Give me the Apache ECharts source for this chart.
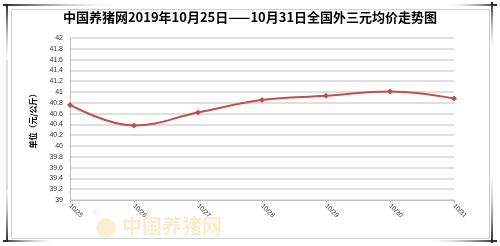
<!DOCTYPE html>
<html>
<head>
<meta charset="utf-8">
<script src="https://cdn.jsdelivr.net/npm/echarts@6/dist/echarts.min.js"></script>
<style>html,body{margin:0;padding:0;background:#fff}#c{width:500px;height:246px}</style>
</head>
<body>
<div id="c"></div>
<script>
var titleText = '中国养猪网2019年10月25日——10月31日全国外三元均价走势图';
var yAxisName = '单位（元/公斤）';
var categories = ['10/25', '10/26', '10/27', '10/28', '10/29', '10/30', '10/31'];
var prices = [40.76, 40.38, 40.62, 40.85, 40.93, 41.01, 40.88];
var yMin = 39, yMax = 42, yStep = 0.2;

var chart = echarts.init(document.getElementById('c'), null, {renderer: 'canvas'});
var cjk = '"Noto Sans CJK SC", "Noto Sans", sans-serif';
function grad(x1, y1, x2, y2, c1, c2) {
  return new echarts.graphic.LinearGradient(x1, y1, x2, y2, [{offset: 0, color: c1}, {offset: 1, color: c2}]);
}
chart.setOption({
  animation: false,
  backgroundColor: '#fff',
  title: {
    text: titleText, left: 'center', top: 6,
    textStyle: {fontFamily: cjk, fontSize: 13, fontWeight: 'bold', color: '#000'}
  },
  grid: {left: 70, right: 46, top: 38, bottom: 46},
  xAxis: {
    type: 'category', data: categories, boundaryGap: false,
    axisLine: {lineStyle: {color: '#bfbfbf', width: 1}},
    axisTick: {show: true, inside: false, length: 3, lineStyle: {color: '#bfbfbf'}},
    axisLabel: {rotate: -45, fontSize: 6.5, color: '#333', fontFamily: 'Liberation Sans', margin: 5},
    splitLine: {show: false}
  },
  yAxis: {
    type: 'value', min: yMin, max: yMax, interval: yStep,
    name: yAxisName, nameLocation: 'middle', nameGap: 33, nameRotate: 90,
    nameTextStyle: {fontFamily: cjk, fontSize: 8, fontWeight: 'bold', color: '#000'},
    axisLine: {show: true, lineStyle: {color: '#bfbfbf'}},
    axisTick: {show: false},
    axisLabel: {fontSize: 7, color: '#333', fontFamily: 'Liberation Sans', margin: 7},
    splitLine: {lineStyle: {color: '#d4d4d4', width: 1.5}}
  },
  series: [{
    type: 'line', data: prices, smooth: 0.4,
    symbol: 'diamond', symbolSize: 6,
    lineStyle: {color: '#c0504d', width: 2},
    itemStyle: {color: '#c0504d'}
  }],
  graphic: [
    {type: 'rect', shape: {x: 11.5, y: 9.5, width: 478, height: 229}, style: {fill: null, stroke: '#cfcfcf', lineWidth: 1}, z: -1},
    {type: 'rect', shape: {x: 3, y: 4, width: 110, height: 2}, style: {fill: grad(0, 0, 1, 0, '#222', 'rgba(200,200,200,0)')}},
    {type: 'rect', shape: {x: 6, y: 4, width: 2, height: 60}, style: {fill: grad(0, 0, 0, 1, '#222', 'rgba(200,200,200,0)')}},
    {type: 'rect', shape: {x: 6, y: 60, width: 2, height: 130}, style: {fill: '#e0e0e0'}},
    {type: 'rect', shape: {x: 6, y: 180, width: 2, height: 62}, style: {fill: grad(0, 0, 0, 1, 'rgba(200,200,200,0)', '#222')}},
    {type: 'rect', shape: {x: 3, y: 240, width: 50, height: 2}, style: {fill: grad(0, 0, 1, 0, '#222', 'rgba(200,200,200,0)')}},
    {type: 'rect', shape: {x: 450, y: 4, width: 47, height: 2}, style: {fill: grad(0, 0, 1, 0, 'rgba(200,200,200,0)', '#222')}},
    {type: 'rect', shape: {x: 491, y: 2, width: 2, height: 48}, style: {fill: grad(0, 0, 0, 1, '#222', 'rgba(200,200,200,0)')}},
    {type: 'rect', shape: {x: 491, y: 170, width: 2, height: 73}, style: {fill: grad(0, 0, 0, 1, 'rgba(200,200,200,0)', '#222')}},
    {type: 'rect', shape: {x: 430, y: 240, width: 67, height: 2}, style: {fill: grad(0, 0, 1, 0, 'rgba(200,200,200,0)', '#222')}},
    {type: 'circle', shape: {cx: 106, cy: 228, r: 10}, style: {fill: '#f3d27a', opacity: 0.35}, z: -1},
    {type: 'text', left: 93, top: 210, style: {text: '®', fontSize: 6, fill: '#e8c060', opacity: 0.5}, z: -1},
    {type: 'text', left: 122, top: 216, style: {text: '中国养猪网', fontSize: 20, fontWeight: 'bold', fontFamily: cjk, fill: '#f2c05a', opacity: 0.3}, z: -1}
  ]
});
</script>
</body>
</html>
